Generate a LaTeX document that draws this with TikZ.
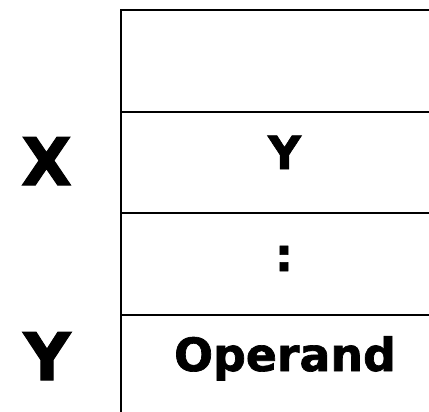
\documentclass[tikz,border=0pt]{standalone}
\usepackage{fontspec}
\setmainfont{DejaVu Sans}
\newfontfamily\heavy{DejaVu Sans Bold}[FakeBold=1.5]
\begin{document}
\begin{tikzpicture}[x=1bp,y=-1bp,
  rule/.style={line width=2.1bp, black},
  big/.style={font=\fontsize{66}{70}\selectfont\heavy, inner sep=0pt, anchor=base},
  cell/.style={font=\fontsize{46}{50}\selectfont\heavy, inner sep=0pt, anchor=base}]
\useasboundingbox (0,0) rectangle (429,412);
\coordinate (tl) at (121,10);
\coordinate (bl) at (121,412);
\coordinate (tr) at (429,10);
\coordinate (l1) at (121,112); \coordinate (r1) at (429,112);
\coordinate (l2) at (121,213); \coordinate (r2) at (429,213);
\coordinate (l3) at (121,315); \coordinate (r3) at (429,315);
\draw[rule] (bl) -- (tl) -- (tr);
\draw[rule] (l1) -- (r1);
\draw[rule] (l2) -- (r2);
\draw[rule] (l3) -- (r3);
\node[big] (x) at (46.5,185) {X};
\node[big] (y) at (47,380) {Y};
\node[cell] (cy) at (284.5,169) {Y};
\node[cell] (dots) at (284,271) {:};
\node[cell] (op) at (285,371) {Operand};
\end{tikzpicture}
\end{document}
